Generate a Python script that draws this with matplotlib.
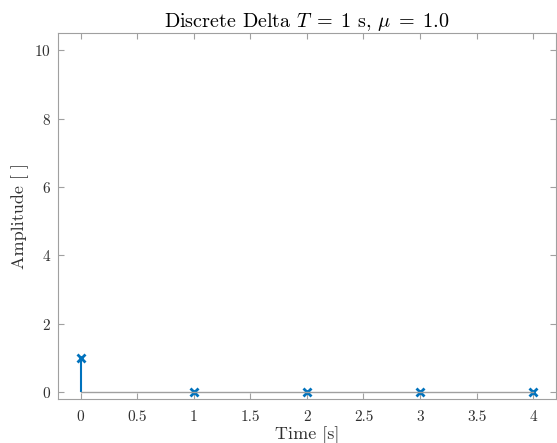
import matplotlib
matplotlib.use('Agg')
import matplotlib.pyplot as plt

# Discrete delta samples
t = [0, 1, 2, 3, 4]
amp = [1.0, 0.0, 0.0, 0.0, 0.0]
xticks = [0, 0.5, 1, 1.5, 2, 2.5, 3, 3.5, 4]
xticklabels = ['0', '0.5', '1', '1.5', '2', '2.5', '3', '3.5', '4']
yticks = [0, 2, 4, 6, 8, 10]

plt.rcParams['font.family'] = 'serif'
plt.rcParams['font.serif'] = ['cmr10']
plt.rcParams['mathtext.fontset'] = 'cm'
plt.rcParams['axes.formatter.use_mathtext'] = True

blue = '#0072BD'
axcol = '#a0a0a0'
txtcol = '#303030'

fig = plt.figure(figsize=(5.57, 4.43), dpi=100)
ax = fig.add_axes([0.104, 0.0993, 0.894, 0.8262])

markers, stems, base = ax.stem(t, amp)
plt.setp(stems, color=blue, linewidth=1.5)
plt.setp(markers, color=blue, marker='x', markersize=6, markeredgewidth=2)
plt.setp(base, color=axcol, linewidth=1.0)

ax.set_xlim(-0.2, 4.2)
ax.set_ylim(-0.2, 10.5)
ax.set_xticks(xticks)
ax.set_xticklabels(xticklabels)
ax.set_yticks(yticks)

for s in ax.spines.values():
    s.set_color(axcol)
    s.set_linewidth(0.8)
ax.tick_params(direction='in', length=4, color=axcol, labelcolor=txtcol,
               labelsize=11, top=True, right=True)
ax.tick_params(axis='x', pad=8)
ax.tick_params(axis='y', pad=5)

ax.set_title(r'Discrete Delta $T\;=\;1$ s, $\mu\;=\;1.0$', fontsize=14.5, color='black', pad=4)
ax.set_xlabel('Time [s]', fontsize=13, color=txtcol, labelpad=2)
ax.set_ylabel('Amplitude [ ]', fontsize=13, color=txtcol, labelpad=4)

fig.savefig('out.png', dpi=100)
